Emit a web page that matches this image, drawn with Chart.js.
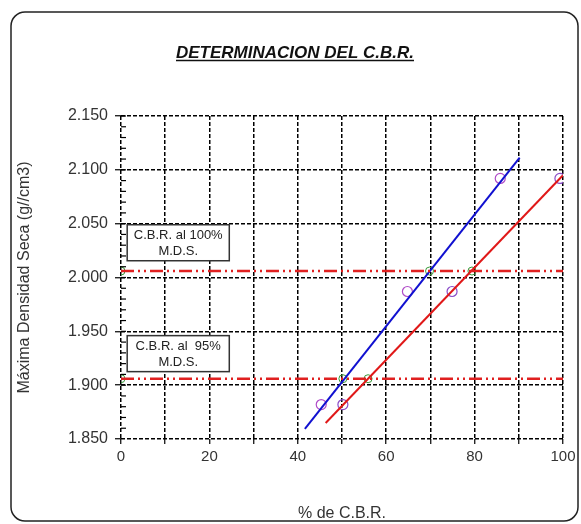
<!DOCTYPE html>
<html>
<head>
<meta charset="utf-8">
<script src="https://cdn.jsdelivr.net/npm/chart.js@4/dist/chart.umd.min.js"></script>
<style>
html, body { margin: 0; padding: 0; background: #fff; }
#wrap { width: 581px; height: 524px; }
</style>
</head>
<body>
<div id="wrap"><canvas id="cbrChart" width="581" height="524"></canvas></div>
<script>
// Data
const cbrBlue = [45.3, 64.8, 85.8];
const densBlue = [1.882, 1.987, 2.092];
const cbrRed = [50.2, 74.9, 99.3];
const densRed = [1.882, 1.987, 2.092];

const fitBlueX = [41.6, 90.2];
const fitBlueY = [1.8595, 2.1114];
const fitRedX = [46.3, 100];
const fitRedY = [1.8648, 2.095];

const mdsLevels = [2.006, 1.906];       // 100% and 95% M.D.S.
const mdsSpan = [0, 100];
const cross100 = [0, 69.8, 79.4];
const cross95 = [0, 50.2, 55.9];

const boxLabels = [['C.B.R. al 100%', 'M.D.S.'], ['C.B.R. al  95%', 'M.D.S.']];

const FONT = 'Arial, "Liberation Sans", sans-serif';

const toPts = (xs, ys) => xs.map((x, i) => ({ x: x, y: Array.isArray(ys) ? ys[i] : ys }));

const framePlugin = {
    id: 'frame',
    beforeDraw(chart) {
        const ctx = chart.ctx;
        ctx.save();
        ctx.fillStyle = '#fff';
        ctx.fillRect(0, 0, chart.width, chart.height);
        ctx.restore();
    },
    afterDatasetsDraw(chart) {
        const ctx = chart.ctx;
        const xs = chart.scales.x, ys = chart.scales.y;
        // label boxes
        const tops = [2.049, 1.946];
        ctx.save();
        boxLabels.forEach((lines, i) => {
            const left = xs.getPixelForValue(1.4);
            const right = xs.getPixelForValue(24.5);
            const top = ys.getPixelForValue(tops[i]);
            const h = 36;
            ctx.fillStyle = '#fff';
            ctx.fillRect(left, top, right - left, h);
            ctx.strokeStyle = '#333';
            ctx.lineWidth = 1.5;
            ctx.strokeRect(left, top, right - left, h);
            ctx.fillStyle = '#222';
            ctx.font = '13px ' + FONT;
            ctx.textAlign = 'center';
            ctx.textBaseline = 'middle';
            const cx = (left + right) / 2;
            ctx.fillText(lines[0], cx, top + 11);
            ctx.fillText(lines[1], cx, top + 27);
        });
        ctx.restore();
    },
    afterDraw(chart) {
        const ctx = chart.ctx;
        const xs = chart.scales.x, ys = chart.scales.y;
        ctx.save();
        // minor ticks on the left axis
        ctx.strokeStyle = '#000';
        ctx.lineWidth = 1.2;
        const ax = xs.getPixelForValue(0);
        for (let v = 1.86; v < 2.15; v += 0.01) {
            const py = ys.getPixelForValue(v);
            ctx.beginPath();
            ctx.moveTo(ax, py);
            ctx.lineTo(ax + 5, py);
            ctx.stroke();
        }
        // rounded frame
        const x0 = 11, y0 = 12, x1 = 578, y1 = 521, r = 14;
        ctx.strokeStyle = '#222';
        ctx.lineWidth = 1.5;
        ctx.beginPath();
        ctx.roundRect(x0, y0, x1 - x0, y1 - y0, r);
        ctx.stroke();
        // title
        const title = 'DETERMINACION DEL C.B.R.';
        ctx.font = 'italic bold 17px ' + FONT;
        ctx.fillStyle = '#111';
        ctx.textAlign = 'center';
        ctx.textBaseline = 'alphabetic';
        ctx.fillText(title, 295, 58);
        const w = ctx.measureText(title).width;
        ctx.lineWidth = 1.5;
        ctx.strokeStyle = '#111';
        ctx.beginPath();
        ctx.moveTo(295 - w / 2, 60.5);
        ctx.lineTo(295 + w / 2, 60.5);
        ctx.stroke();
        // axis titles
        ctx.font = '16px ' + FONT;
        ctx.fillStyle = '#333';
        ctx.textBaseline = 'middle';
        ctx.fillText('% de C.B.R.', (chart.chartArea.left + chart.chartArea.right) / 2, 514);
        ctx.translate(25, (chart.chartArea.top + chart.chartArea.bottom) / 2);
        ctx.rotate(-Math.PI / 2);
        ctx.fillText('Máxima Densidad Seca (g//cm3)', 0, 0);
        ctx.restore();
    }
};

function initChart() {
    const ctx = document.getElementById('cbrChart').getContext('2d');
    const dashDot = [13, 4, 2, 4, 2, 4];
    new Chart(ctx, {
        type: 'scatter',
        data: {
            datasets: [
                { data: toPts(mdsSpan, mdsLevels[0]), showLine: true, borderColor: '#e02020', borderWidth: 2.5, borderDash: dashDot, pointRadius: 0 },
                { data: toPts(mdsSpan, mdsLevels[1]), showLine: true, borderColor: '#e02020', borderWidth: 2.5, borderDash: dashDot, pointRadius: 0 },
                { data: toPts(fitBlueX, fitBlueY), showLine: true, borderColor: '#1010d0', borderWidth: 2, pointRadius: 0 },
                { data: toPts(fitRedX, fitRedY), showLine: true, borderColor: '#e01818', borderWidth: 2, pointRadius: 0 },
                { data: toPts(cross100, mdsLevels[0]), pointStyle: 'circle', pointRadius: 4, pointBorderColor: '#3a9a3a', pointBackgroundColor: 'rgba(0,0,0,0)', pointBorderWidth: 1 },
                { data: toPts(cross95, mdsLevels[1]), pointStyle: 'circle', pointRadius: 4, pointBorderColor: '#3a9a3a', pointBackgroundColor: 'rgba(0,0,0,0)', pointBorderWidth: 1 },
                { data: toPts(cbrBlue, densBlue), pointRadius: 5, pointBorderColor: '#b04cc8', pointBackgroundColor: 'rgba(0,0,0,0)', pointBorderWidth: 1.2 },
                { data: toPts(cbrRed, densRed), pointRadius: 5, pointBorderColor: '#8a4cc8', pointBackgroundColor: 'rgba(0,0,0,0)', pointBorderWidth: 1.2 }
            ]
        },
        options: {
            responsive: false,
            animation: false,
            devicePixelRatio: 1,
            layout: { padding: { left: 0, top: 116, right: 18, bottom: 0 } },
            plugins: { legend: { display: false }, tooltip: { enabled: false } },
            scales: {
                x: {
                    type: 'linear', min: 0, max: 100,
                    afterFit: s => { s.height = 85; },
                    grid: { color: '#000', lineWidth: 1.5, tickLength: 5, tickColor: '#000', tickWidth: 1.2 },
                    border: { display: false, dash: [4, 2] },
                    ticks: {
                        stepSize: 10, autoSkip: false, maxRotation: 0, padding: 4,
                        color: '#333', font: { family: FONT, size: 15 },
                        callback: v => (v % 20 === 0 ? String(v) : '')
                    }
                },
                y: {
                    type: 'linear', min: 1.85, max: 2.15,
                    afterFit: s => { s.width = 121; },
                    grid: { color: '#000', lineWidth: 1.5, tickLength: 6, tickColor: '#000', tickWidth: 1.2 },
                    border: { display: false, dash: [4, 2] },
                    ticks: {
                        stepSize: 0.05, autoSkip: false, padding: 7,
                        color: '#333', font: { family: FONT, size: 16 },
                        callback: v => Number(v).toFixed(3)
                    }
                }
            }
        },
        plugins: [framePlugin]
    });
}

window.onload = initChart;
</script>
</body>
</html>
